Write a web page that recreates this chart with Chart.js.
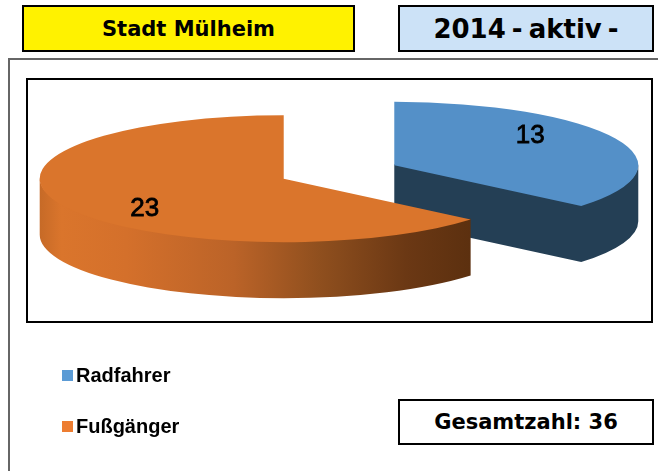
<!DOCTYPE html>
<html lang="de">
<head>
<meta charset="utf-8">
<title>Stadt Mülheim 2014</title>
<script src="https://cdn.jsdelivr.net/npm/chart.js@4/dist/chart.umd.min.js"></script>
<style>
html,body{margin:0;padding:0;background:#fff;width:658px;height:471px;overflow:hidden}
.box{position:absolute;box-sizing:border-box;border:2px solid #000;display:flex;align-items:center;justify-content:center;font-family:"DejaVu Sans",sans-serif;font-weight:bold;color:#000}
#city{left:22px;top:5px;width:333px;height:47px;background:#fff200;font-size:21px}
#year{left:398px;top:5px;width:256px;height:47px;background:#cce2f7;font-size:26px;word-spacing:-3px}
#total{left:398px;top:399px;width:256px;height:46px;background:#fff;font-size:21px}
#outer{position:absolute;left:8px;top:58px;width:660px;height:430px;border:2px solid #666;box-sizing:border-box}
#inner{position:absolute;left:26px;top:78px;width:627px;height:245px;border:2px solid #000;box-sizing:border-box}
canvas{position:absolute;left:0;top:0}
.leg{position:absolute;left:62px;font:bold 20px "Liberation Sans",sans-serif;color:#000;line-height:20px;white-space:nowrap;padding-left:14px}
.leg i{position:absolute;left:0;top:5px;width:11px;height:11px}
</style>
</head>
<body>
<div id="city" class="box"></div>
<div id="year" class="box"></div>
<div id="outer"></div>
<div id="inner"></div>
<canvas id="c" width="658" height="471"></canvas>
<div id="legend"></div>
<div id="total" class="box"></div>
<script>
const cityTitle = "Stadt Mülheim";
const yearTitle = "2014 - aktiv -";
const totalPrefix = "Gesamtzahl: ";
const categories = ["Radfahrer", "Fußgänger"];
const values = [13, 23];
const topColors = ["#5490c8", "#da752c"];
const legendColors = ["#5b9bd5", "#ed7d31"];

document.getElementById("city").textContent = cityTitle;
document.getElementById("year").textContent = yearTitle;
document.getElementById("total").textContent = totalPrefix + values.reduce((a, b) => a + b, 0);
document.getElementById("legend").innerHTML = categories.map((c, i) =>
  `<div class="leg" style="top:${365 + i * 51}px"><i style="background:${legendColors[i]}"></i>${c}</div>`).join("");

const tilt = 0.26, depth = 56, explode = 61;
const labelShift = [[136, -29], [-139, 30]];

function sliceGeom(el) {
  const p = el.getProps(["x", "y", "startAngle", "endAngle", "outerRadius"], true);
  const mid = (p.startAngle + p.endAngle) / 2;
  return {
    x: p.x, y: p.y,
    cx: p.x + Math.cos(mid) * explode,
    cy: p.y + Math.sin(mid) * explode * tilt,
    rx: p.outerRadius, ry: p.outerRadius * tilt,
    start: p.startAngle, end: p.endAngle
  };
}
function orangeWall(ctx, g) {
  const grad = ctx.createLinearGradient(g.cx - g.rx, 0, g.cx + g.rx * Math.cos(g.start), 0);
  grad.addColorStop(0, "#c66a27");
  grad.addColorStop(0.05, "#da752c");
  grad.addColorStop(0.2, "#d4702b");
  grad.addColorStop(0.45, "#bb6328");
  grad.addColorStop(0.65, "#8f4f1e");
  grad.addColorStop(0.85, "#6b3814");
  grad.addColorStop(1, "#5c300f");
  return grad;
}
const pie3d = {
  id: "pie3d",
  beforeDatasetDraw(chart) {
    const ctx = chart.ctx;
    const arcs = chart.getDatasetMeta(0).data;
    arcs.forEach((el, i) => {
      const g = sliceGeom(el);
      const a = Math.max(g.start, 0), b = Math.min(g.end, Math.PI);
      ctx.save();
      ctx.fillStyle = i === 0 ? "#243f55" : orangeWall(ctx, g);
      ctx.beginPath();
      if (a < b) {
        ctx.ellipse(g.cx, g.cy - 1, g.rx, g.ry, 0, a, b);
        ctx.ellipse(g.cx, g.cy + depth, g.rx, g.ry, 0, b, a, true);
        ctx.closePath();
      }
      if (Math.cos(g.end) > 0.001) {
        const ex = g.cx + g.rx * Math.cos(g.end), ey = g.cy + g.ry * Math.sin(g.end);
        ctx.moveTo(g.cx, g.cy - 1);
        ctx.lineTo(ex, ey - 1);
        ctx.lineTo(ex, ey + depth);
        ctx.lineTo(g.cx, g.cy + depth);
        ctx.closePath();
      }
      ctx.fill();
      ctx.restore();
      ctx.save();
      ctx.translate(g.cx, g.cy);
      ctx.scale(1, tilt);
      ctx.translate(-g.x, -g.y);
      el.draw(ctx, chart.chartArea);
      ctx.restore();
    });
    return false;
  },
  afterDatasetsDraw(chart) {
    const ctx = chart.ctx;
    ctx.save();
    ctx.font = '26px "Liberation Sans", sans-serif';
    ctx.textAlign = "center";
    ctx.textBaseline = "middle";
    ctx.fillStyle = "#000";
    ctx.strokeStyle = "#000";
    ctx.lineWidth = 0.8;
    chart.getDatasetMeta(0).data.forEach((el, i) => {
      const g = sliceGeom(el);
      const t = String(values[i]);
      ctx.fillText(t, g.cx + labelShift[i][0], g.cy + labelShift[i][1]);
      ctx.strokeText(t, g.cx + labelShift[i][0], g.cy + labelShift[i][1]);
    });
    ctx.restore();
  }
};

new Chart(document.getElementById("c"), {
  type: "pie",
  data: {
    labels: categories,
    datasets: [{
      data: values,
      backgroundColor: topColors,
      borderWidth: 0,
      clip: false
    }]
  },
  options: {
    responsive: false,
    animation: false,
    radius: 244,
    layout: { padding: { left: 20, bottom: 127 } },
    plugins: { legend: { display: false }, tooltip: { enabled: false } }
  },
  plugins: [pie3d]
});
</script>
</body>
</html>
